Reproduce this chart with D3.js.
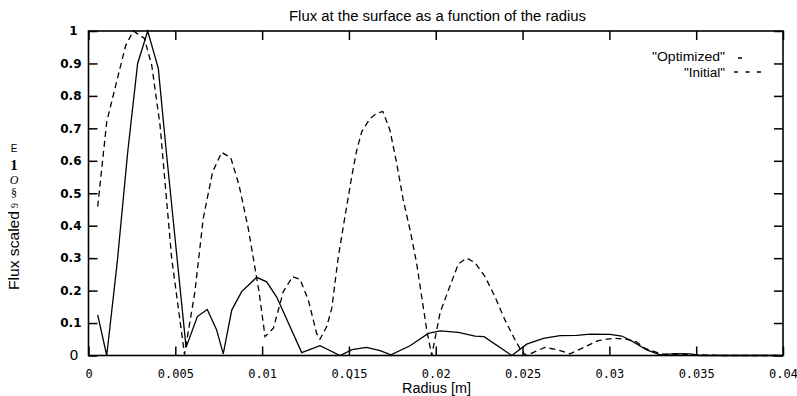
<!DOCTYPE html>
<html>
<head>
  <meta charset="utf-8">
  <title>Flux at the surface</title>
  <script src="https://cdn.jsdelivr.net/npm/d3@7"></script>
  <style>
    body { margin: 0; background: #fff; }
    text { fill: #000; }
  </style>
</head>
<body>
  <div id="chart"></div>
  <script>
    // values
    const xTicks = [0, 0.005, 0.01, 0.015, 0.02, 0.025, 0.03, 0.035, 0.04];
    const xTickLabels = ["0", "0.005", "0.01", "0.Q15", "0.02", "0.025", "0.03", "0.035", "0.04"];
    const yTicks = [0, 0.1, 0.2, 0.3, 0.4, 0.5, 0.6, 0.7, 0.8, 0.9, 1];

    const optimizedR = [0.00053, 0.00105, 0.00166, 0.00226, 0.00283, 0.00341, 0.00402, 0.0045,
      0.00562, 0.00627, 0.00684, 0.00738, 0.00776, 0.00825, 0.00882, 0.00969, 0.01026, 0.01084,
      0.01228, 0.01333, 0.01449, 0.01518, 0.01602, 0.01679, 0.01742, 0.01852, 0.01957, 0.02025,
      0.0213, 0.02226, 0.02278, 0.02438, 0.02524, 0.0262, 0.02716, 0.02812, 0.02889, 0.03004,
      0.03071, 0.03138, 0.03215, 0.03292, 0.03378, 0.03465, 0.03522, 0.04];
    const optimizedFlux = [0.125, 0.0, 0.29, 0.628, 0.9, 1.0, 0.885, 0.618,
      0.025, 0.12, 0.142, 0.079, 0.005, 0.14, 0.197, 0.241, 0.227, 0.18,
      0.009, 0.03, 0.0, 0.018, 0.025, 0.015, 0.002, 0.03, 0.068, 0.076,
      0.071, 0.06, 0.058, 0.0, 0.035, 0.053, 0.061, 0.062, 0.066, 0.065,
      0.06, 0.042, 0.017, 0.002, 0.006, 0.005, 0.0, 0.0];

    const initialR = [0.00053, 0.00105, 0.00162, 0.00214, 0.00258, 0.00321, 0.00364, 0.00412,
      0.00479, 0.00553, 0.00613, 0.00661, 0.00715, 0.00767, 0.00819, 0.00867, 0.0092, 0.00982,
      0.01017, 0.01065, 0.01122, 0.01176, 0.01218, 0.01266, 0.01314, 0.01333, 0.01372, 0.01401,
      0.01439, 0.01477, 0.01516, 0.01545, 0.01574, 0.01621, 0.01656, 0.01695, 0.01736, 0.01775,
      0.01813, 0.01852, 0.0189, 0.01919, 0.01948, 0.01977, 0.02025, 0.02072, 0.0213, 0.02178,
      0.02226, 0.02284, 0.02341, 0.02399, 0.02457, 0.02495, 0.02524, 0.02572, 0.02629, 0.02706,
      0.02773, 0.02841, 0.02936, 0.03023, 0.031, 0.03154, 0.03205, 0.03302, 0.03378, 0.03494,
      0.03647, 0.04];
    const initialFlux = [0.459, 0.72, 0.844, 0.955, 1.0, 0.978, 0.895, 0.71,
      0.3, 0.003, 0.197, 0.423, 0.566, 0.626, 0.61, 0.525, 0.392, 0.197,
      0.058, 0.084, 0.197, 0.243, 0.235, 0.171, 0.068, 0.05, 0.089, 0.145,
      0.305, 0.428, 0.551, 0.633, 0.69, 0.73, 0.745, 0.752, 0.695, 0.592,
      0.479, 0.387, 0.284, 0.181, 0.079, 0.0, 0.132, 0.2, 0.282, 0.3,
      0.286, 0.243, 0.181, 0.109, 0.048, 0.012, 0.0, 0.012, 0.025, 0.017,
      0.005, 0.022, 0.046, 0.053, 0.05, 0.043, 0.022, 0.004, 0.004, 0.002,
      0.0, 0.0];

    const w = 797, h = 396;
    const plotLeft = 88.5, plotRight = 783, plotTop = 31, plotBottom = 355.5;

    const svg = d3.select("#chart").append("svg")
      .attr("width", w)
      .attr("height", h);

    const x = d3.scaleLinear().domain([0, 0.04]).range([plotLeft, plotRight]);
    const y = d3.scaleLinear().domain([0, 1]).range([plotBottom, plotTop]);

    // title
    svg.append("text")
      .attr("x", 289).attr("y", 21)
      .attr("textLength", 297)
      .attr("lengthAdjust", "spacingAndGlyphs")
      .style("font-family", "Liberation Sans, Arial, sans-serif")
      .style("font-size", "14px")
      .text("Flux at the surface as a function of the radius");

    // axes, ticks pointing inward
    const bottomAxis = svg.append("g")
      .attr("transform", `translate(0,${plotBottom})`)
      .call(d3.axisBottom(x).tickValues(xTicks).tickSize(-9).tickSizeOuter(0).tickPadding(14)
        .tickFormat((d, i) => xTickLabels[i]));
    bottomAxis.selectAll("text")
      .style("font-family", "DejaVu Sans Mono, monospace")
      .style("font-size", "12px");

    svg.append("g")
      .attr("transform", `translate(0,${plotTop})`)
      .call(d3.axisTop(x).tickValues(xTicks).tickSize(-9).tickSizeOuter(0).tickFormat(""));

    const leftAxis = svg.append("g")
      .attr("transform", `translate(${plotLeft},0)`)
      .call(d3.axisLeft(y).tickValues(yTicks).tickSize(-9).tickSizeOuter(0).tickPadding(7)
        .tickFormat(d => d === 0 || d === 1 ? d3.format("d")(d) : d3.format(".1f")(d)));
    leftAxis.selectAll("text")
      .style("font-family", "DejaVu Sans, sans-serif")
      .style("font-weight", "bold")
      .style("font-size", "12px");
    leftAxis.selectAll(".tick text").filter(d => d === 0)
      .attr("x", -10)
      .style("font-weight", "normal")
      .style("font-size", "14px");
    leftAxis.selectAll(".tick text").filter(d => d === 1)
      .attr("x", -11);

    svg.append("g")
      .attr("transform", `translate(${plotRight},0)`)
      .call(d3.axisRight(y).tickValues(yTicks).tickSize(-9).tickSizeOuter(0).tickFormat(""));

    svg.selectAll(".domain").remove();
    svg.selectAll(".tick line").attr("stroke", "#000").attr("stroke-width", 1.5);

    // frame
    svg.append("rect")
      .attr("x", plotLeft).attr("y", plotTop)
      .attr("width", plotRight - plotLeft).attr("height", plotBottom - plotTop)
      .attr("fill", "none")
      .attr("stroke", "#000")
      .attr("stroke-width", 1.6);

    // x label
    svg.append("text")
      .attr("x", 402).attr("y", 393)
      .attr("textLength", 69)
      .attr("lengthAdjust", "spacingAndGlyphs")
      .style("font-family", "Liberation Sans, Arial, sans-serif")
      .style("font-size", "14px")
      .text("Radius [m]");

    // y label (scan leaves odd glyphs after "Flux scaled")
    svg.append("text")
      .attr("transform", "translate(19,290) rotate(-90)")
      .attr("textLength", 79)
      .attr("lengthAdjust", "spacingAndGlyphs")
      .style("font-family", "Liberation Sans, Arial, sans-serif")
      .style("font-size", "14.5px")
      .text("Flux scaled");
    svg.append("text")
      .attr("transform", "translate(18,208) rotate(-90)")
      .style("font-family", "Liberation Serif, serif")
      .style("font-size", "10px")
      .text("9");
    const glyphs = [
      { t: "§", y: 197, size: 12, style: "normal", weight: "normal", font: "Liberation Serif, serif" },
      { t: "O", y: 183.5, size: 12, style: "italic", weight: "normal", font: "Liberation Serif, serif" },
      { t: "1", y: 169.5, size: 15, style: "normal", weight: "bold", font: "Liberation Serif, serif" },
      { t: "E", y: 151.5, size: 10, style: "normal", weight: "normal", font: "Liberation Sans, sans-serif" }
    ];
    svg.selectAll(".ylab-glyph")
      .data(glyphs)
      .enter()
      .append("text")
      .attr("class", "ylab-glyph")
      .attr("x", 14)
      .attr("y", d => d.y)
      .attr("text-anchor", "middle")
      .style("font-family", d => d.font)
      .style("font-size", d => d.size + "px")
      .style("font-style", d => d.style)
      .style("font-weight", d => d.weight)
      .text(d => d.t);

    // curves
    const line = d3.line()
      .x(d => x(d[0]))
      .y(d => y(d[1]));

    svg.append("path")
      .datum(initialR.map((r, i) => [r, initialFlux[i]]))
      .attr("d", line)
      .attr("fill", "none")
      .attr("stroke", "#000")
      .attr("stroke-width", 1.3)
      .attr("stroke-dasharray", "6,4");

    svg.append("path")
      .datum(optimizedR.map((r, i) => [r, optimizedFlux[i]]))
      .attr("d", line)
      .attr("fill", "none")
      .attr("stroke", "#000")
      .attr("stroke-width", 1.3);

    // legend
    const legend = svg.append("g")
      .style("font-family", "Liberation Sans, Arial, sans-serif")
      .style("font-size", "13.5px");
    legend.append("text")
      .attr("x", 725).attr("y", 61)
      .attr("text-anchor", "end")
      .attr("textLength", 73)
      .attr("lengthAdjust", "spacingAndGlyphs")
      .text("\"Optimized\"");
    legend.append("text")
      .attr("x", 725).attr("y", 76.5)
      .attr("text-anchor", "end")
      .text("\"Initial\"");
    legend.append("line")
      .attr("x1", 738).attr("x2", 742)
      .attr("y1", 58).attr("y2", 58)
      .attr("stroke", "#000").attr("stroke-width", 1.5);
    legend.append("line")
      .attr("x1", 734).attr("x2", 761)
      .attr("y1", 72).attr("y2", 72)
      .attr("stroke", "#000").attr("stroke-width", 1.5)
      .attr("stroke-dasharray", "4,7.5");
  </script>
</body>
</html>
